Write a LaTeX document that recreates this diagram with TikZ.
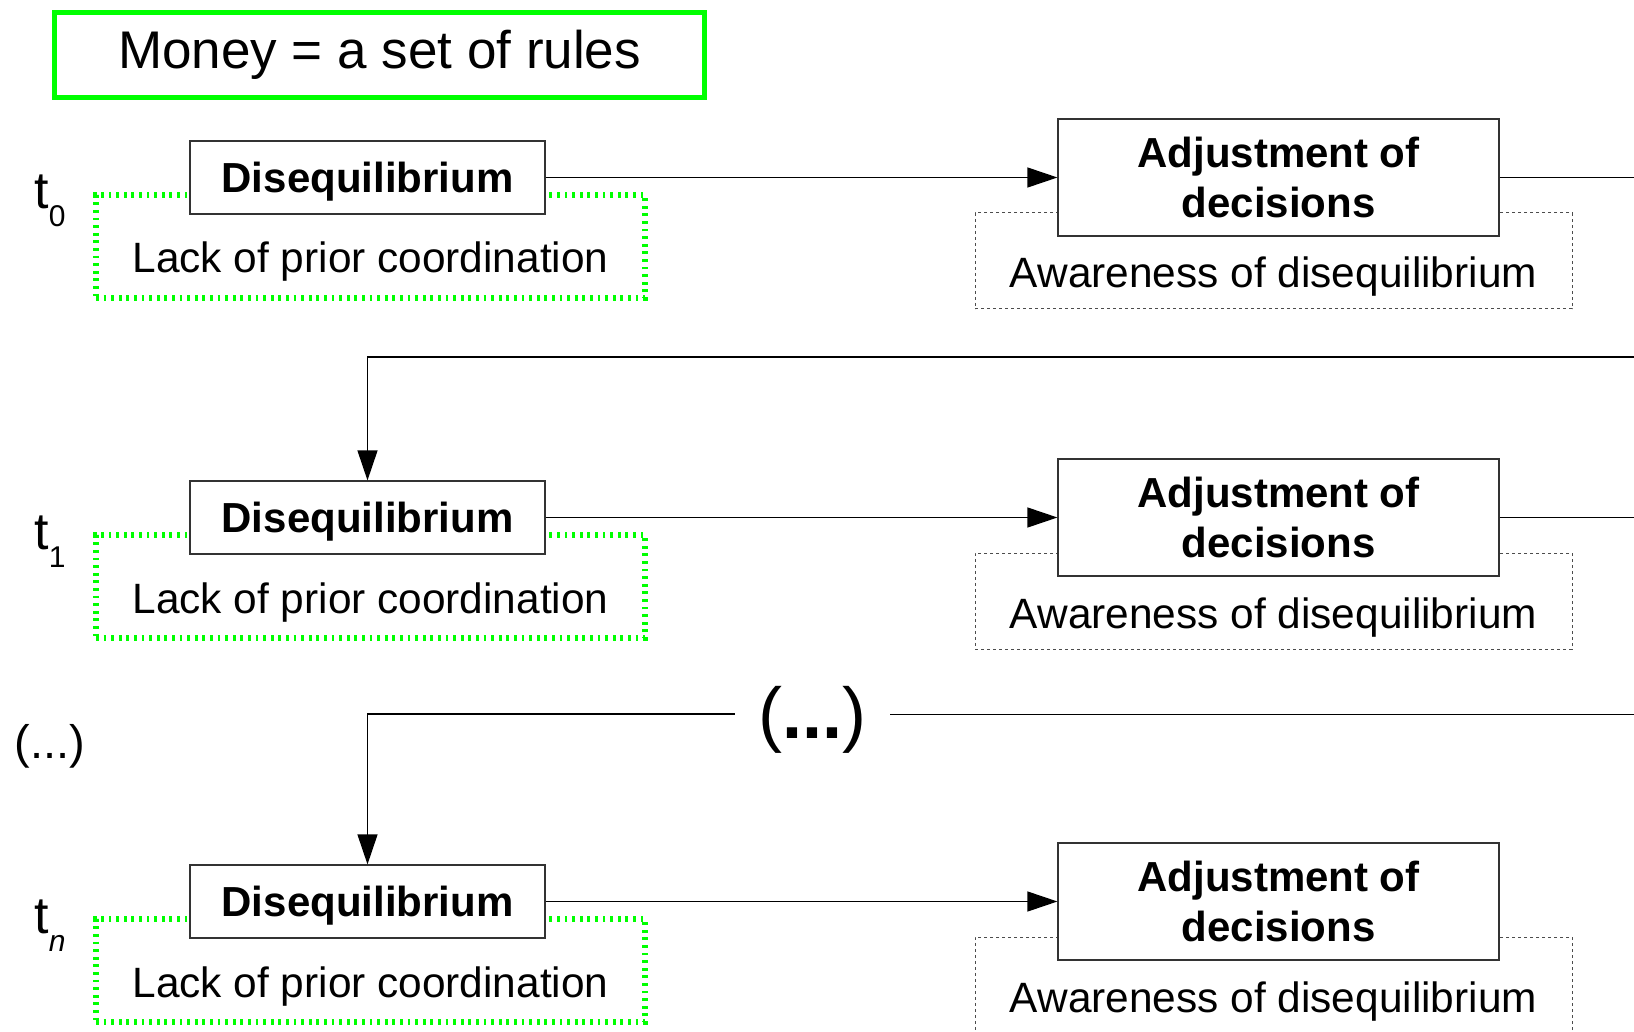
\documentclass[tikz,border=0pt]{standalone}
\usepackage{fontspec}
\setmainfont{Liberation Sans}
\usepackage{tikz}
\usetikzlibrary{arrows.meta}
\usetikzlibrary{calc}
\definecolor{vert}{RGB}{0,255,0}
\newcommand{\instant}[1]{t\raisebox{-9pt}{\fontsize{15}{15}\selectfont #1}}
\tikzstyle{regle}=[draw=vert,line width=2.5pt,minimum width=325pt,minimum height=42.5pt,
        font=\fontsize{26.5}{30}\selectfont]
\tikzstyle{boite}=[rectangle,draw=black!80,fill=white,line width=0.6pt,inner sep=0pt,
        font=\fontsize{21}{25}\selectfont\bfseries]
\tikzstyle{etat}=[boite,minimum width=177.5pt,minimum height=36.5pt,text depth=0pt]
\tikzstyle{ajust}=[boite,minimum width=220.5pt,minimum height=58.5pt,align=center]
\tikzstyle{cause}=[draw=vert,line width=3pt,dash pattern=on 1.4pt off 2.4pt,
        minimum width=274.5pt,inner sep=0pt,text height=39pt,text depth=12.5pt,
        anchor=base,font=\fontsize{21.2}{25}\selectfont]
\tikzstyle{prise}=[draw=black!70,line width=0.5pt,dash pattern=on 1.7pt off 1.3pt,
        minimum width=298.5pt,inner sep=0pt,text height=37.5pt,text depth=10.5pt,
        anchor=base,font=\fontsize{21.2}{25}\selectfont]
\tikzstyle{temps}=[inner sep=0pt,anchor=base west,font=\fontsize{26}{30}\selectfont]
\tikzstyle{suite}=[-{Triangle[length=15pt,width=10pt]},line width=0.6pt]

\begin{document}
\begin{tikzpicture}[x=0.5pt,y=-0.5pt]
\useasboundingbox (0,0) rectangle (1634,1032);
\clip (0,0) rectangle (1634,1032);
\node[regle] (money) at (379.5,55) {Money = a set of rules};
%t0
\node[cause] (lack0) at (370.5,273) {Lack of prior coordination};
\node[prise] (aware0) at (1273.5,288) {Awareness of disequilibrium};
\node[etat] (dis0) at (367.5,177.5) {Disequilibrium};
\node[ajust] (adj0) at (1278.5,177.5) {Adjustment of\\decisions};
\node[temps] (t0) at (34,209) {\instant{0}};
%t1
\node[cause] (lack1) at (370.5,613) {Lack of prior coordination};
\node[prise] (aware1) at (1273.5,628) {Awareness of disequilibrium};
\node[etat] (dis1) at (367.5,517.5) {Disequilibrium};
\node[ajust] (adj1) at (1278.5,517.5) {Adjustment of\\decisions};
\node[temps] (t1) at (34,549) {\instant{1}};
%(...)
\node[font=\fontsize{23.5}{28}\selectfont,inner sep=0pt] (etc) at (50,746) {(...)};
\node[font=\fontsize{36}{40}\selectfont,inner xsep=12pt,inner ysep=0pt,outer sep=0pt] (dots) at (812.5,720) {(\textbf{...})};
%tn
\node[cause] (lackn) at (370.5,997) {Lack of prior coordination};
\node[prise] (awaren) at (1273.5,1012) {Awareness of disequilibrium};
\node[etat] (disn) at (367.5,901.5) {Disequilibrium};
\node[ajust] (adjn) at (1278.5,901.5) {Adjustment of\\decisions};
\node[temps] (tn) at (34,933) {\instant{\itshape n}};
%fleches
\coordinate (r0) at (1700,177.5);
\coordinate (r1) at (1700,357);
\coordinate (r2) at (1700,517.5);
\coordinate (r3) at (1700,714);
\draw[suite] (dis0) -- (adj0);
\draw[suite] (adj0) -- (r0) -- (r1) -| (dis1);
\draw[suite] (dis1) -- (adj1);
\draw (adj1) -- (r2) -- (r3) -- (dots.east |- r3);
\draw[suite] (dots.west |- r3) -| (disn);
\draw[suite] (disn) -- (adjn);
\end{tikzpicture}
\end{document}
